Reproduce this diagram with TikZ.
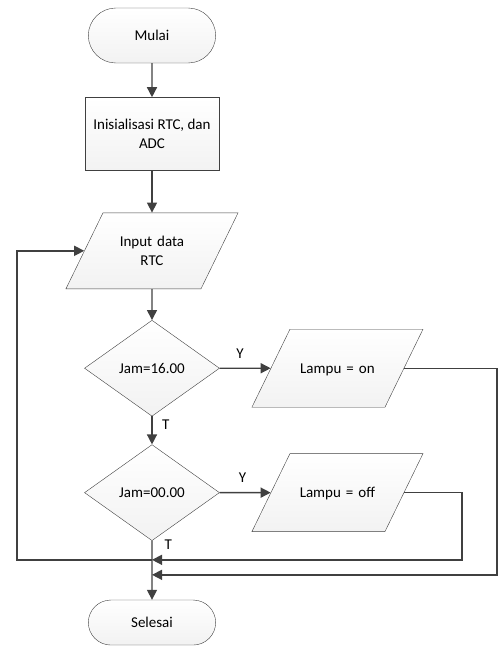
\documentclass[tikz,border=0pt]{standalone}
\usepackage{fontspec}
\setmainfont{Carlito}
\definecolor{mygaris}{RGB}{64,64,64}
\definecolor{myisi}{RGB}{242,242,242}
\usetikzlibrary{calc,arrows.meta,positioning,shapes.geometric,shapes.misc}

\begin{document}
\begin{tikzpicture}[
  font=\fontsize{15}{18.5}\selectfont,
  terminal/.style={
    draw=mygaris,
    thin,
    rounded rectangle,
    top color=white,
    bottom color=myisi,
    minimum width=134pt,
    minimum height=#1
    },
  proses/.style={
    draw=mygaris,
    thin,
    rectangle,
    top color=white,
    bottom color=myisi,
    minimum width=134pt,
    minimum height=73pt,
    align=center
    },
  io/.style={
    draw=mygaris,
    thin,
    trapezium,
    trapezium left angle=64,
    trapezium right angle=116,
    top color=white,
    bottom color=myisi,
    text width=80pt,
    inner xsep=#1,
    align=center
    },
  satubaris/.style={
    text height=12pt,
    text depth=2pt,
    inner ysep=32pt
    },
  keputusan/.style={
    draw=mygaris,
    thin,
    diamond,
    top color=white,
    bottom color=myisi,
    minimum width=135pt,
    minimum height=96pt
    },
  garis/.style={
    draw=mygaris,
    line width=1.4pt,
    -{Triangle[length=10pt,width=10pt]}
  }
]
\useasboundingbox (0,0) rectangle (499pt,-657pt);

\node[terminal=55pt] at (152pt,-35.5pt) (mulai) {Mulai};
\node[proses, below=34pt of mulai] (init) {Inisialisasi RTC, dan\\ADC};
\node[io=9pt, inner ysep=23.5pt, below=42pt of init] (input) {Input data\\RTC};
\node[keputusan, below=31pt of input] (cekjam1) {Jam=16.00};
\node[keputusan, below=28pt of cekjam1] (cekjam2) {Jam=00.00};
\node[io=7.5pt, satubaris, right=51pt of cekjam1] (lampuon) {Lampu = on};
\node[io=7.5pt, satubaris, right=51pt of cekjam2] (lampuoff) {Lampu = off};
\node[terminal=45pt, below=59pt of cekjam2] (selesai) {Selesai};

\coordinate (gabung1) at ($(cekjam2.south)+(0,-19pt)$);
\coordinate (gabung2) at ($(cekjam2.south)+(0,-34pt)$);
\coordinate (kiri) at (17pt,0);
\coordinate (kanan1) at (497pt,0);
\coordinate (kanan2) at (462pt,0);

\draw[garis] (mulai) -- (init);
\draw[garis] (init) -- (input);
\draw[garis] (input) -- (cekjam1);
\draw[garis] (cekjam1) -- node[pos=0.4, above=6pt] {Y} (lampuon);
\draw[garis] (cekjam1) -- node[right=6pt, pos=0.3] {T} (cekjam2);
\draw[garis] (cekjam2) -- node[pos=0.45, above=6pt] {Y} (lampuoff);
\draw[garis] (cekjam2) -- (selesai);
\node[anchor=west] at ($(cekjam2.south)+(9pt,-4pt)$) (tdua) {T};

\draw[garis] (lampuon.east) -| (kanan1 |- gabung2) -- (gabung2);
\draw[garis] (lampuoff.east) -| (kanan2 |- gabung1) -- (gabung1);
\draw[garis] (gabung1) -- (kiri |- gabung1) |- (input.west);

\end{tikzpicture}
\end{document}
